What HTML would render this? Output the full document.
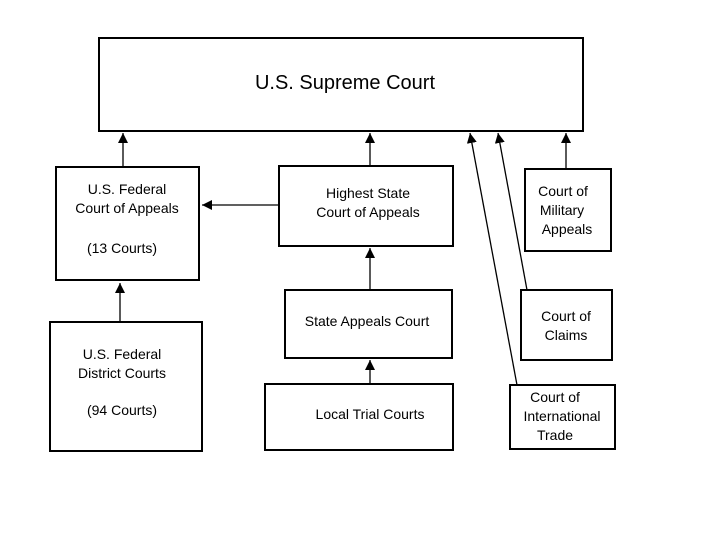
<!DOCTYPE html>
<html><head><style>
body{margin:0;background:#fff;width:720px;height:540px;overflow:hidden}
svg text{font-family:"Liberation Sans",sans-serif;fill:#000}
</style></head><body>
<svg width="720" height="540" viewBox="0 0 720 540">
<defs><marker id="a" viewBox="0 0 10 10" refX="10" refY="5" markerWidth="10" markerHeight="10" markerUnits="userSpaceOnUse" orient="auto"><path d="M0,0L10,5L0,10z"/></marker></defs>
<g fill="none" stroke="#000" stroke-width="2">
<rect x="99" y="38" width="484" height="93"/>
<rect x="56" y="167" width="143" height="113"/>
<rect x="279" y="166" width="174" height="80"/>
<rect x="285" y="290" width="167" height="68"/>
<rect x="265" y="384" width="188" height="66"/>
<rect x="50" y="322" width="152" height="129"/>
<rect x="525" y="169" width="86" height="82"/>
<rect x="521" y="290" width="91" height="70"/>
<rect x="510" y="385" width="105" height="64"/>
</g>
<g stroke="#000" stroke-width="1.3" marker-end="url(#a)">
<line x1="123" y1="167" x2="123" y2="133"/>
<line x1="279" y1="205" x2="202" y2="205"/>
<line x1="120" y1="322" x2="120" y2="283"/>
<line x1="370" y1="166" x2="370" y2="133"/>
<line x1="370" y1="290" x2="370" y2="248"/>
<line x1="370" y1="384" x2="370" y2="360"/>
<line x1="566" y1="169" x2="566" y2="133"/>
<line x1="527" y1="290" x2="498" y2="133"/>
<line x1="517" y1="385" x2="470" y2="133"/>
</g>
<text x="345" y="89" font-size="20" text-anchor="middle">U.S. Supreme Court</text>
<g font-size="14" text-anchor="middle">
<text x="127" y="194">U.S. Federal</text>
<text x="127" y="213">Court of Appeals</text>
<text x="122" y="253">(13 Courts)</text>
<text x="368" y="198">Highest State</text>
<text x="368" y="217">Court of Appeals</text>
<text x="367" y="326">State Appeals Court</text>
<text x="370" y="419">Local Trial Courts</text>
<text x="122" y="359">U.S. Federal</text>
<text x="122" y="378">District Courts</text>
<text x="122" y="415">(94 Courts)</text>
<text x="563" y="196">Court of</text>
<text x="562" y="215">Military</text>
<text x="567" y="234">Appeals</text>
<text x="566" y="321">Court of</text>
<text x="566" y="340">Claims</text>
<text x="555" y="402">Court of</text>
<text x="562" y="421">International</text>
<text x="555" y="440">Trade</text>
</g>
</svg>
</body></html>
